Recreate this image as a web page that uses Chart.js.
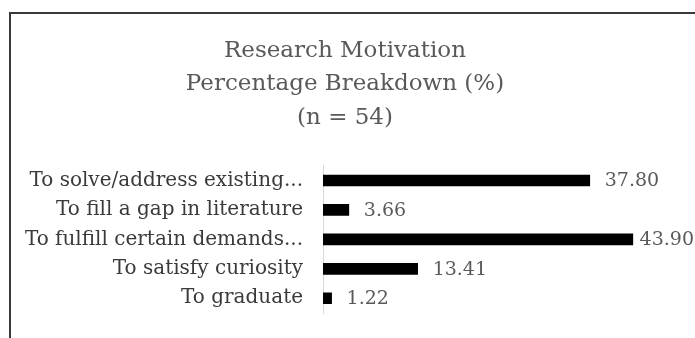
<!DOCTYPE html>
<html>
<head>
<meta charset="utf-8">
<script src="https://cdn.jsdelivr.net/npm/chart.js@4"></script>
<style>
  html, body { margin: 0; padding: 0; background: #fff; }
  #wrap { width: 695px; height: 338px; }
</style>
</head>
<body>
<div id="wrap"><canvas id="barChart"></canvas></div>
<script>
// Data motivasi riset
const labels = [
    "To solve/address existing...",
    "To fill a gap in literature",
    "To fulfill certain demands...",
    "To satisfy curiosity",
    "To graduate"
];

const values = [37.80, 3.66, 43.90, 13.41, 1.22];

const titleLines = ["Research Motivation", "Percentage Breakdown (%)", "(n = 54)"];

const FONT = "'DejaVu Serif', serif";

// frame around the chart (only top and left are visible)
const framePlugin = {
    id: 'frame',
    beforeDraw(chart) {
        const c = chart.ctx;
        c.save();
        c.strokeStyle = '#3a3a3a';
        c.lineWidth = 2;
        c.strokeRect(10, 13, chart.width + 50, chart.height + 50);
        c.restore();
    }
};

// value labels right of each bar
const valueLabels = {
    id: 'valueLabels',
    afterDatasetsDraw(chart) {
        const c = chart.ctx;
        c.save();
        c.font = "19px " + FONT;
        c.fillStyle = '#595959';
        c.textBaseline = 'middle';
        chart.getDatasetMeta(0).data.forEach((bar, i) => {
            const txt = values[i].toFixed(2);
            const w = c.measureText(txt).width;
            const x = Math.min(bar.x + 15, chart.width - w - 1);
            c.fillText(txt, x, bar.y + 1);
        });
        c.restore();
    }
};

const ctx = document.getElementById('barChart').getContext('2d');
const barChart = new Chart(ctx, {
    type: 'bar',
    data: {
        labels: labels,
        datasets: [{
            data: values,
            backgroundColor: '#000',
            barThickness: 11
        }]
    },
    options: {
        indexAxis: 'y',
        responsive: true,
        maintainAspectRatio: false,
        animation: false,
        layout: { padding: { top: 20, bottom: 25, right: 5, left: 0 } },
        plugins: {
            legend: { display: false },
            tooltip: { enabled: false },
            title: {
                display: true,
                text: titleLines,
                color: '#595959',
                font: { family: FONT, size: 23, weight: 'normal', lineHeight: 1.46 },
                padding: { top: 14, bottom: 31 }
            }
        },
        scales: {
            x: {
                display: false,
                min: 0,
                max: 52
            },
            y: {
                afterFit(scale) { scale.width = 323; },
                grid: { display: false },
                border: { display: true, color: '#d9d9d9', width: 1 },
                ticks: {
                    color: '#3a3a3a',
                    padding: 12,
                    font: { family: FONT, size: 20 }
                }
            }
        }
    },
    plugins: [framePlugin, valueLabels]
});
</script>
</body>
</html>
